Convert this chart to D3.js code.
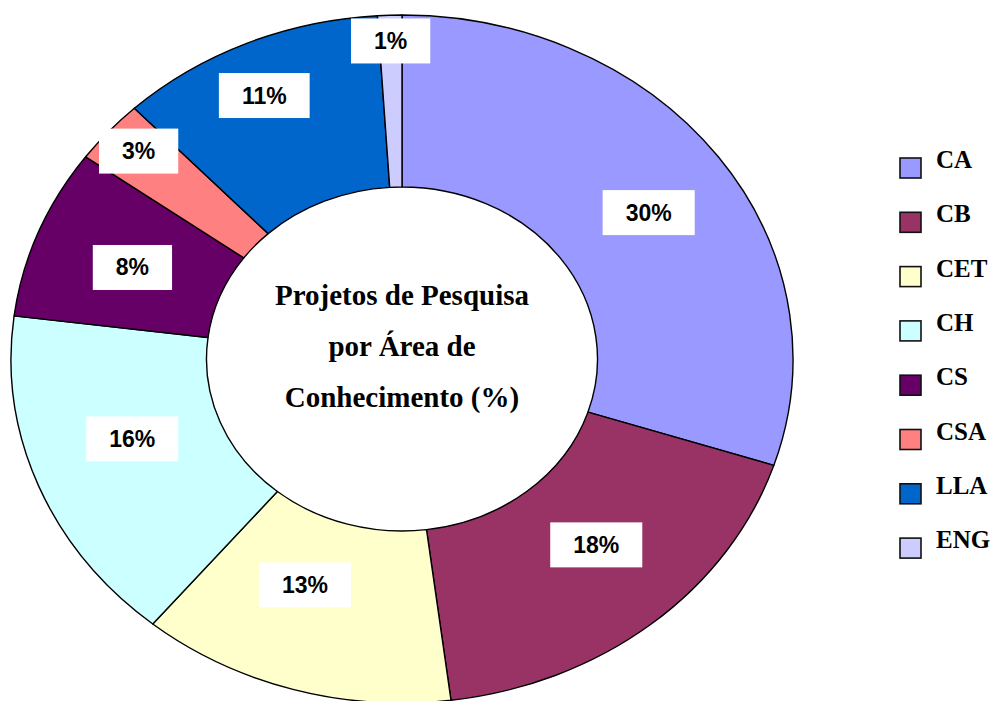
<!DOCTYPE html>
<html>
<head>
<meta charset="utf-8">
<script src="https://cdn.jsdelivr.net/npm/d3@7"></script>
<style>
  html, body { margin: 0; padding: 0; background: #fff; }
  svg { display: block; }
</style>
</head>
<body>
<svg id="chart" width="995" height="701"></svg>
<script>
// ---- data ----
const categories = ["CA", "CB", "CET", "CH", "CS", "CSA", "LLA", "ENG"];
const values = [30, 18, 13, 16, 8, 3, 11, 1];
const colors = ["#9999FF", "#993366", "#FFFFCC", "#CCFFFF", "#660066", "#FF8080", "#0066CC", "#CCCCFF"];
const titleLines = ["Projetos de Pesquisa", "por Área de", "Conhecimento (%)"];

// ---- layout (label placement, as fraction of outer radius, and angular nudge in degrees) ----
const labelRadius = [0.761, 0.734, 0.702, 0.728, 0.739, 0.905, 0.843, 0.925];
const labelNudge = [2.0, -3.0, 4.5, 3.0, -0.5, 0.5, -1.3, 0];

const W = 995, H = 701;
const cx = 402, cy = 359;
const R = 391, Ry = 344;
const sy = Ry / R;

const svg = d3.select("#chart");

const pie = d3.pie().sort(null).value(d => d.v);
const data = pie(categories.map((c, i) => ({ c, v: values[i], color: colors[i], i })));

const arc = d3.arc().innerRadius(R * 0.5).outerRadius(R);

const g = svg.append("g").attr("transform", `translate(${cx},${cy}) scale(1,${sy})`);
g.selectAll("path")
  .data(data)
  .join("path")
  .attr("d", arc)
  .attr("fill", d => d.data.color)
  .attr("stroke", "#000")
  .attr("stroke-width", 1.4)
  .attr("stroke-linejoin", "round")
  .attr("vector-effect", "non-scaling-stroke");

// ---- percentage labels ----
const fmt = d => d3.format(".0%")(d.value / d3.sum(values));
const lg = svg.append("g");
data.forEach((d, i) => {
  const mid = (d.startAngle + d.endAngle) / 2 + labelNudge[i] * Math.PI / 180;
  const r = R * labelRadius[i];
  const la = d3.arc().innerRadius(r).outerRadius(r).startAngle(mid).endAngle(mid);
  const [px, py] = la.centroid();
  const x = cx + px, y = cy + py * sy;
  const t = lg.append("text")
    .attr("x", x).attr("y", y)
    .attr("text-anchor", "middle")
    .attr("dominant-baseline", "central")
    .attr("font-family", "'Liberation Sans', Arial, sans-serif")
    .attr("font-weight", "bold")
    .attr("font-size", 23)
    .attr("fill", "#000")
    .text(fmt(d));
  const bb = t.node().getBBox();
  const bw = bb.width + 46, bh = 45;
  lg.insert("rect", "text")
    .attr("x", x - bw / 2).attr("y", y - bh / 2)
    .attr("width", bw).attr("height", bh)
    .attr("fill", "#fff");
});

// ---- center title ----
svg.append("g")
  .selectAll("text")
  .data(titleLines)
  .join("text")
  .attr("x", cx)
  .attr("y", (d, i) => 305 + i * 51)
  .attr("text-anchor", "middle")
  .attr("font-family", "'Liberation Serif', 'Times New Roman', serif")
  .attr("font-weight", "bold")
  .attr("font-size", 29)
  .attr("fill", "#000")
  .text(d => d);

// ---- legend ----
const legend = svg.append("g").attr("transform", "translate(900,158)");
const item = legend.selectAll("g")
  .data(categories)
  .join("g")
  .attr("transform", (d, i) => `translate(0,${i * 54.3})`);
item.append("rect")
  .attr("width", 21).attr("height", 20)
  .attr("fill", (d, i) => colors[i])
  .attr("stroke", "#111")
  .attr("stroke-width", 1.6);
item.append("text")
  .attr("x", 36).attr("y", 10)
  .attr("font-family", "'Liberation Serif', 'Times New Roman', serif")
  .attr("font-weight", "bold")
  .attr("font-size", 25)
  .attr("fill", "#000")
  .text(d => d);
</script>
</body>
</html>
